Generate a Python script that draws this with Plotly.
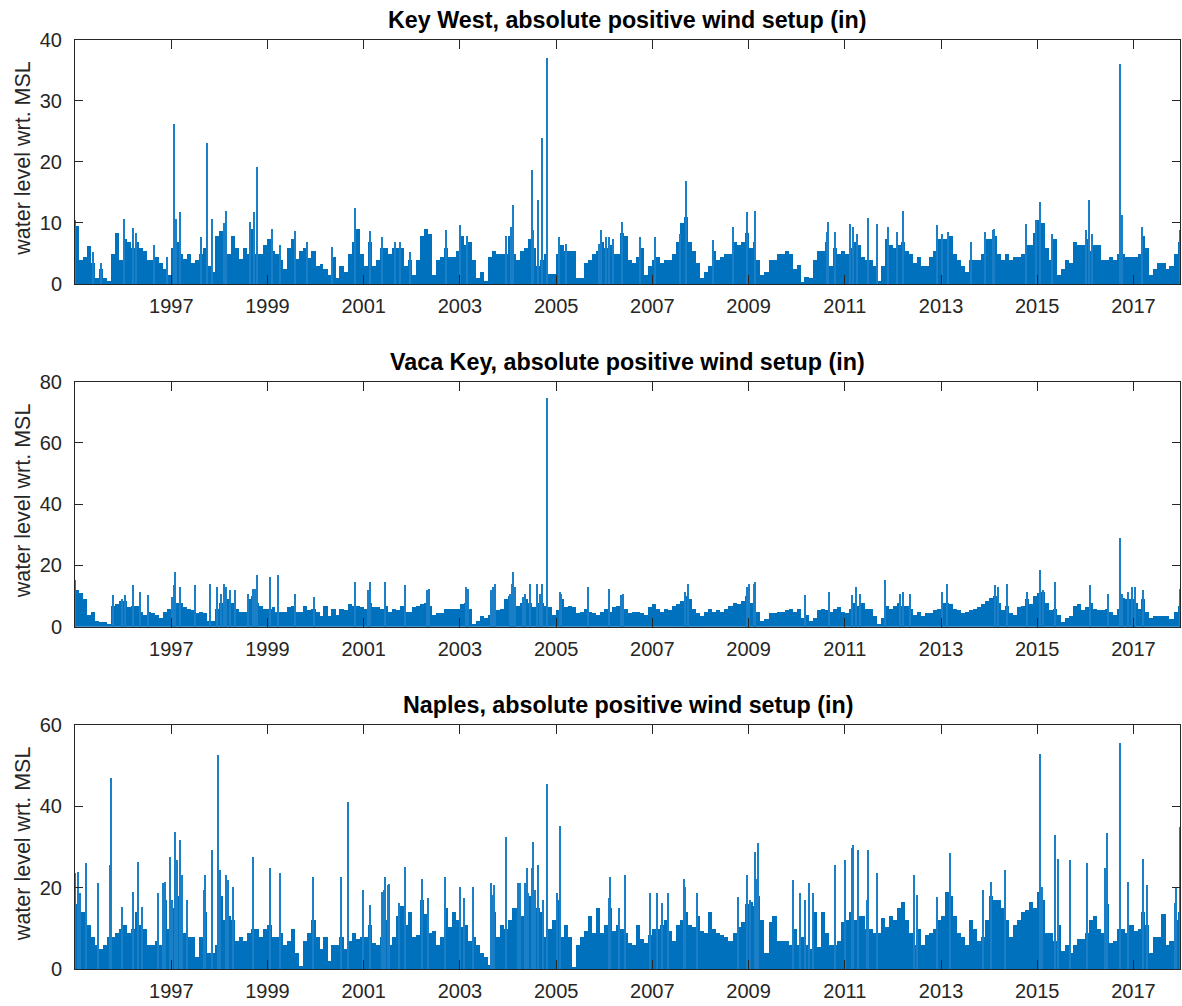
import pandas as pd
import plotly.graph_objects as go

# ---------------- data (monthly envelope values) ----------------
key_west_monthly = [
    9.5, 4, 4.5, 6.3, 3.5, 1, 2.5, 1, 0.5, 5, 8.5, 4,          # 1995
    7.5, 7, 6, 7, 6, 5.5, 4, 4, 4.5, 3.5, 2.5, 1.5,            # 1996
    6, 7, 5, 4.2, 5, 3.5, 4, 5, 6, 3, 2, 8,                    # 1997
    8.8, 9, 5, 8, 6, 4.2, 6, 5, 9, 5, 5, 6.5,                  # 1998
    7.5, 5.5, 5, 4, 2.5, 6, 7.5, 4.2, 5.5, 6, 4.3, 5.5,        # 1999
    3, 3.3, 2.5, 1.5, 4.5, 1, 3, 2, 5, 7, 9, 5,                # 2000
    3, 7, 3, 4, 6, 6, 5, 6, 6, 6, 3, 4,                        # 2001
    1.5, 4, 8, 9, 8.3, 1.5, 4, 4.5, 6, 4.5, 4.5, 5.5,          # 2002
    8, 6.5, 7, 4, 1, 2, 0.5, 4.5, 5.5, 5, 5, 5,                # 2003
    8, 5, 4, 5.5, 6, 7.5, 6, 3, 4, 5, 1.8, 1.8,                # 2004
    5, 6.5, 5.5, 5.5, 5.5, 1, 1, 3.5, 4, 5, 5.5, 7,            # 2005
    6, 6.5, 5, 5, 8.5, 8, 4, 3.5, 4.5, 6, 1.5, 3,              # 2006
    4, 4.5, 3.5, 4, 4, 5, 7, 10, 11, 7, 5.5, 3.5,              # 2007
    1, 2, 3, 5.5, 4, 4.5, 5, 5, 7, 6.5, 7, 8.5,                # 2008
    6, 7, 4, 1.5, 2, 4, 4, 5, 5, 5.5, 5, 2.5,                  # 2009
    3.2, 0.4, 1.2, 1, 4, 5.5, 5.5, 7, 3, 6, 5, 5.5,            # 2010
    5, 6, 7, 6.5, 4.5, 4, 4, 3, 0.5, 3, 7.5, 6.5,              # 2011
    6, 6.5, 7, 5.5, 5, 3.5, 4.5, 3, 3, 4.5, 5.5, 7.5,          # 2012
    7.5, 7.5, 8, 5, 4, 3, 2, 4, 4, 4, 5, 7.5,                  # 2013
    7.5, 8, 5, 4, 5, 4, 4.5, 4.5, 5, 6.5, 6.5, 8.5,            # 2014
    10.5, 10, 6, 4, 7.5, 1.5, 2.5, 4, 3.5, 7, 6.5, 6.5,        # 2015
    7.5, 5.5, 6.5, 6.5, 4, 4, 4.5, 4, 5, 5, 4.5, 4.5,          # 2016
    4.5, 5, 8, 6, 1.5, 2.5, 3.5, 3.5, 2.5, 3, 5, 7,            # 2017
]
key_west_peak_dates = [
    "1995-01-03", "1995-05-19", "1995-07-20", "1996-01-08", "1996-03-14", "1996-04-05",
    "1996-08-22", "1996-12-02", "1997-01-24", "1997-02-03", "1997-03-08", "1997-08-14",
    "1997-09-27", "1997-11-06", "1998-02-03", "1998-02-24", "1998-08-25", "1998-09-24",
    "1998-10-12", "1999-02-06", "1999-04-05", "1999-07-27", "1999-10-27", "2000-05-05",
    "2000-10-27", "2001-02-17", "2001-05-22", "2001-08-25", "2001-10-05", "2001-12-20",
    "2002-09-21", "2003-01-05", "2003-02-21", "2003-12-19", "2004-01-26", "2004-02-10",
    "2004-06-28", "2004-07-09", "2004-08-17", "2004-09-12", "2004-10-22", "2005-01-26",
    "2005-03-18", "2005-11-24", "2005-12-07", "2006-01-16", "2006-02-10", "2006-03-07",
    "2006-05-15", "2006-09-27", "2007-01-19", "2007-07-27", "2007-09-10", "2008-04-05",
    "2008-09-05", "2008-12-17", "2009-02-20", "2010-08-18", "2010-08-28", "2010-10-20",
    "2011-02-10", "2011-03-07", "2011-04-01", "2011-06-29", "2011-09-01", "2011-11-24",
    "2012-01-29", "2012-03-22", "2012-11-28", "2013-01-05", "2013-02-24", "2013-08-17",
    "2013-11-28", "2014-01-29", "2014-02-09", "2014-10-07", "2014-12-23", "2015-01-23",
    "2015-04-27", "2016-01-04", "2016-01-26", "2016-02-24", "2016-09-17", "2016-10-05",
    "2017-03-08", "2017-12-18",
]
key_west_peak_values = [
    10.5, 5.3, 3.5, 10.7, 9.2, 8.5,
    6.5, 4.5, 26.2, 10.7, 11.8, 7.8,
    23.1, 10.7, 10, 12, 10.2, 11.8,
    19.3, 9, 6.5, 8.8, 7, 6.2,
    12.5, 8.8, 7.7, 7, 7, 5.3,
    8.9, 9.8, 8, 8, 9.4, 13,
    18.7, 8.9, 13.9, 24, 37, 7.7,
    6.7, 6.7, 8.9, 7.7, 7.7, 7.5,
    10.2, 7.7, 7.7, 8.3, 17, 7.2,
    9.4, 11.8, 12, 8.6, 10.2, 8.6,
    9.9, 9.4, 8.3, 10.8, 9.9, 9.4,
    8.6, 12.1, 9.7, 8.3, 8.6, 7,
    8.6, 8.9, 9.1, 9.9, 10.5, 13.5,
    8.3, 8.9, 13.9, 8.3, 36, 11.3,
    9.4, 8.9,
]

vaca_key_monthly = [
    12, 11, 9, 4, 5, 2, 1.5, 1.5, 1, 7, 7.5, 8.5,              # 1995
    8.5, 6.5, 7, 7, 5, 4, 5, 4.5, 4, 3, 5, 6,                  # 1996
    9, 8, 8, 6.5, 6, 5.5, 4.5, 5, 4.5, 2, 2, 6,                # 1997
    8, 10, 9, 8, 6, 5, 5, 9, 10, 8, 7, 6,                      # 1998
    6, 6.5, 5, 5, 5, 6.5, 7, 5, 5, 7, 5.5, 6,                  # 1999
    5, 3.5, 7, 3.5, 6, 4, 6, 5.5, 7.5, 7, 7, 6.5,              # 2000
    6, 8, 6.5, 6.5, 6, 7, 5, 6, 5.5, 7, 5, 5,                  # 2001
    6.5, 7, 7.5, 8, 7, 4, 4.5, 4.5, 6, 6, 6, 6,                # 2002
    7.5, 8, 6, 1, 2, 3.5, 3, 4, 9, 5.5, 6, 9,                  # 2003
    10, 11, 7, 8, 9, 8, 6.5, 8, 8, 7, 6.5, 4,                  # 2004
    5.5, 9, 6.5, 7, 6.5, 4.5, 5, 6, 5, 4.5, 4, 5,              # 2005
    6, 5, 6.5, 7, 9, 6, 4.5, 5, 5, 4.5, 4, 6.5,                # 2006
    7.5, 6, 5, 6, 5.5, 7, 7.5, 8.5, 10, 9, 6, 4.5,             # 2007
    3.5, 5, 6, 5, 5.5, 5, 6, 7, 8, 7.5, 8.5, 10,               # 2008
    8, 10, 5, 2, 2.5, 4.5, 4.5, 5, 5, 5.5, 6, 5,               # 2009
    6, 3, 4, 2, 3, 5.5, 6, 5.5, 5, 6, 6.5, 5,                  # 2010
    4.5, 6, 8, 7, 8, 6, 6, 3.5, 1, 3, 7, 6,                    # 2011
    7, 8, 7, 7, 6, 4, 5, 3.5, 4.5, 4.5, 5.5, 6,                # 2012
    8, 8, 7.5, 6, 5.5, 4.5, 5, 5.5, 6, 6.5, 7.5, 8.5,          # 2013
    9.5, 10, 8, 5.5, 7, 4.5, 4, 6.5, 7, 9, 7.5, 10,            # 2014
    11, 11.5, 8, 5.5, 6, 4, 1.5, 3, 3.5, 7, 7.5, 5.5,          # 2015
    6.5, 8, 6, 5.5, 5.5, 6, 5, 4, 6, 9.5, 9, 9,                # 2016
    8, 6, 9, 5, 3, 3.5, 3.5, 3.5, 3.5, 2.5, 5, 7,              # 2017
]
vaca_key_peak_dates = [
    "1995-01-03", "1995-10-20", "1995-12-24", "1996-01-17", "1996-03-14", "1996-05-08",
    "1996-07-08", "1997-01-05", "1997-01-20", "1997-01-30", "1997-03-08", "1997-06-28",
    "1997-10-23", "1997-12-13", "1998-01-12", "1998-02-06", "1998-02-24", "1998-03-21",
    "1998-04-30", "1998-08-04", "1998-09-13", "1998-10-01", "1998-10-11", "1999-01-19",
    "1999-03-25", "1999-07-28", "1999-12-17", "2000-10-27", "2001-02-03", "2001-02-18",
    "2001-06-10", "2001-11-13", "2002-04-23", "2002-05-08", "2003-02-20", "2003-03-04",
    "2003-08-28", "2003-09-09", "2003-09-24", "2004-01-14", "2004-01-30", "2004-02-10",
    "2004-02-21", "2004-04-23", "2004-05-06", "2004-06-17", "2004-08-07", "2004-08-29",
    "2004-09-12", "2004-10-22", "2005-01-27", "2005-02-07", "2005-09-03", "2006-02-03",
    "2006-05-08", "2006-05-22", "2007-09-06", "2007-10-02", "2008-12-17", "2009-01-01",
    "2009-02-08", "2009-02-20", "2010-03-08", "2010-09-06", "2011-02-23", "2011-03-24",
    "2011-04-27", "2011-11-02", "2012-02-23", "2012-03-20", "2012-05-08", "2013-01-05",
    "2013-02-13", "2014-02-17", "2014-03-10", "2014-05-16", "2014-10-12", "2015-01-23",
    "2015-02-17", "2015-05-17", "2016-02-03", "2016-06-25", "2016-09-17", "2016-10-05",
    "2016-11-24", "2016-12-20", "2017-01-16", "2017-03-18", "2017-12-18",
]
vaca_key_peak_values = [
    15.2, 10.3, 9.2, 10.3, 13.6, 11.4,
    10.3, 9.8, 13.6, 18, 13.1, 13.6,
    14.1, 13.1, 10.9, 14.1, 13.1, 12,
    12, 10.9, 12.5, 12.5, 16.9, 16.3,
    16.9, 10.9, 9.8, 14.7, 12, 14.7,
    14.7, 13.6, 12, 12.5, 13.1, 12.5,
    12, 13, 14.1, 10.9, 14.1, 18,
    13, 9.8, 10.9, 14.1, 14.1, 10.9,
    14.1, 74.9, 11.4, 10.9, 13.1, 12.5,
    10.3, 10.9, 11.4, 14.1, 13.1, 14.1,
    14.1, 14.7, 10.3, 11.4, 10.3, 13.1,
    10.9, 15.2, 10.9, 11.4, 10.9, 11.4,
    14.1, 13.6, 13.1, 14.1, 11.4, 18.7,
    12, 14.7, 13.6, 10.9, 29.2, 10.9,
    11.4, 13.1, 13.1, 12, 12.5,
]

naples_monthly = [
    16, 14, 14, 11, 8, 6, 5, 6, 8, 8, 9, 10,                   # 1995
    11, 9, 10, 14, 11, 10, 6, 6, 7, 6, 17, 10,                 # 1996
    15, 18, 18, 9, 8, 8, 3, 8, 14, 4, 4, 6,                    # 1997
    18, 12, 13, 12, 7, 8, 7, 9, 10, 10, 8, 10,                 # 1998
    11, 8, 8, 9, 6, 7, 10, 4, 0.7, 7, 9, 12,                   # 1999
    8, 5, 8, 2, 6, 6, 8, 5, 7, 9, 7.5, 8,                      # 2000
    8, 11, 6.5, 6, 8, 12, 6, 8, 13, 15.5, 11, 14,              # 2001
    8, 8.5, 17, 13.5, 9, 9.5, 6, 8, 15, 10.5, 14, 12,          # 2002
    10.5, 11, 7, 8, 6, 4, 3, 1, 14, 8, 11, 10,                 # 2003
    12, 15, 15, 13, 17, 18, 19, 15, 14, 8, 10, 12,             # 2004
    17, 8, 11, 8, 0.5, 6, 8, 9.5, 13, 9, 15, 9,                # 2005
    11, 15, 9.5, 11, 10, 9, 6.5, 6, 11, 7.5, 6.5, 8.5,         # 2006
    10, 10, 11, 12, 9.5, 7, 11, 12, 14, 11, 10.5, 13,          # 2007
    9.5, 9, 14, 10, 9, 8.5, 8, 7, 9, 10.5, 11.5, 16,           # 2008
    16.5, 15.5, 18, 12, 4, 11.5, 13, 7, 7, 7, 6, 10,           # 2009
    6, 8, 6, 5, 14, 5.5, 14, 9, 6, 6, 7, 11.5,                 # 2010
    12, 14, 12, 13, 13, 10, 10, 9, 9, 12.5, 10.5, 13,          # 2011
    12, 15, 16.5, 12, 9, 6, 10, 6, 8.5, 9, 10, 12,             # 2012
    13, 19, 18, 13, 9, 8, 6, 12, 10, 7, 8, 12,                 # 2013
    18, 17, 17, 15, 12, 8, 11, 12, 14, 14.5, 16.5, 15,         # 2014
    19, 17, 9, 9, 7, 11, 4.5, 6, 4, 6, 7.5, 7.5,               # 2015
    9, 12, 13, 10, 9, 16, 6.5, 7, 10, 10, 9, 11,               # 2016
    9.5, 10, 14, 11, 4, 8, 8, 13.5, 6, 7, 12, 14,              # 2017
]
naples_peak_dates = [
    "1995-01-03", "1995-01-26", "1995-02-10", "1995-03-29", "1995-06-28", "1995-09-23",
    "1995-10-05", "1995-12-24", "1996-03-18", "1996-04-20", "1996-05-21", "1996-09-24",
    "1996-11-02", "1996-11-13", "1996-12-24", "1997-01-08", "1997-01-30", "1997-02-10",
    "1997-03-08", "1997-03-20", "1997-04-28", "1997-09-05", "1997-09-13", "1997-11-03",
    "1997-12-24", "1998-01-05", "1998-02-24", "1998-03-07", "1998-04-16", "1998-09-16",
    "1999-01-19", "1999-04-06", "1999-12-12", "2000-07-16", "2000-09-05", "2000-12-29",
    "2001-02-17", "2001-05-19", "2001-06-03", "2001-06-12", "2001-07-06", "2001-07-09",
    "2001-09-24", "2001-11-10", "2002-03-17", "2002-05-05", "2002-09-09", "2003-01-03",
    "2003-02-05", "2003-04-12", "2003-08-29", "2003-09-09", "2003-09-20", "2003-12-20",
    "2004-03-18", "2004-04-01", "2004-05-08", "2004-05-22", "2004-06-03", "2004-06-28",
    "2004-07-12", "2004-07-24", "2004-08-17", "2004-09-24", "2004-10-22", "2005-01-06",
    "2005-01-30", "2006-02-03", "2006-02-14", "2006-04-20", "2006-06-06", "2006-12-17",
    "2007-02-07", "2007-03-18", "2007-04-27", "2007-08-26", "2007-09-06", "2007-12-05",
    "2008-10-16", "2008-12-17", "2009-01-12", "2009-02-20", "2009-03-04", "2009-03-17",
    "2009-12-06", "2010-01-30", "2010-03-08", "2010-04-01", "2010-05-08", "2010-10-19",
    "2011-01-04", "2011-02-23", "2011-03-07", "2011-04-14", "2011-06-17", "2011-06-29",
    "2011-09-02", "2012-06-06", "2012-07-01", "2012-11-28", "2013-03-11", "2013-11-16",
    "2014-01-18", "2014-05-02", "2015-01-23", "2015-02-06", "2015-05-17", "2015-06-10",
    "2015-09-09", "2016-01-13", "2016-05-30", "2016-06-13", "2016-09-17", "2016-11-24",
    "2017-03-18", "2017-04-13", "2017-11-09", "2017-11-21", "2017-12-19",
]
naples_peak_values = [
    23.6, 24, 18.7, 26.2, 21.1, 25.6,
    46.9, 15.4, 19.1, 26.4, 15.4, 18.7,
    21.1, 21.5, 27.7, 16.9, 33.8, 26.8,
    31.8, 23.2, 17, 19.5, 23.2, 29.3,
    52.6, 24.4, 23.2, 21.9, 20.3, 27.7,
    24.8, 23.6, 22.7, 22.7, 41.2, 19.5,
    15.8, 19.1, 19.5, 22.7, 20.7, 21,
    16.2, 25.2, 22.3, 17.4, 22.7, 20.3,
    17.4, 20.3, 21.1, 18.2, 20.7, 32.6,
    21.1, 21.1, 21.1, 24.8, 18.7, 24.8,
    31.3, 19.5, 25.6, 17, 45.5, 18.7,
    35.3, 17.4, 22.7, 15.1, 23.2, 18.7,
    18.7, 16.2, 18.7, 22.3, 20.3, 18.7,
    17.8, 23.2, 17, 28.9, 22.3, 30.9,
    21.9, 18.7, 17, 21.1, 18.7, 25.6,
    26.8, 29.7, 30.5, 29.3, 17, 29.3,
    23.6, 23.2, 18.2, 17.8, 28.6, 19.5,
    21.5, 24.4, 52.9, 20.3, 33, 27.2,
    26.8, 26, 24.8, 33.4, 55.5, 21.5,
    27.2, 20.7, 16.2, 19.9, 35,
]

panel_titles = [
    "Key West, absolute positive wind setup (in)",
    "Vaca Key, absolute positive wind setup (in)",
    "Naples, absolute positive wind setup (in)",
]
y_maxima = [40, 80, 60]
y_tick_steps = [10, 20, 20]
x_tick_years = list(range(1997, 2018, 2))
y_label = "water level wrt. MSL"

# ---------------- figure ----------------
W, H = 1182, 1006
L, R = 75, 2
plot_w = W - L - R
panel_px = [(39.5, 284.0), (381.7, 626.7), (725.0, 969.3)]  # (top, bottom) in px

BLUE = "#0072BD"
SPIKE = "#1a7fc6"
AX = "#262626"
FONT = "Liberation Sans, Arial, Helvetica, sans-serif"
DAY_MS = 86400000

month_starts = pd.date_range("1995-01-01", "2017-12-01", freq="MS")
month_widths = [d.days_in_month * DAY_MS for d in month_starts]

series = [
    (key_west_monthly, key_west_peak_dates, key_west_peak_values),
    (vaca_key_monthly, vaca_key_peak_dates, vaca_key_peak_values),
    (naples_monthly, naples_peak_dates, naples_peak_values),
]

fig = go.Figure()
annotations = []
spike_w = 8 * DAY_MS

for i, (monthly, pdates, pvals) in enumerate(series):
    k = "" if i == 0 else str(i + 1)
    fig.add_trace(go.Bar(
        x=month_starts, y=monthly, width=month_widths, offset=0,
        marker=dict(color=BLUE, line=dict(width=0)),
        xaxis="x" + k, yaxis="y" + k, showlegend=False, hoverinfo="skip",
    ))
    fig.add_trace(go.Bar(
        x=pd.to_datetime(pdates), y=pvals, width=spike_w, offset=-spike_w / 2,
        marker=dict(color=SPIKE, line=dict(width=0)),
        xaxis="x" + k, yaxis="y" + k, showlegend=False, hoverinfo="skip",
    ))

    top, bot = panel_px[i]
    dom = [1 - bot / H, 1 - top / H]
    common = dict(
        showline=True, linecolor=AX, linewidth=1, mirror="ticks",
        ticks="inside", tickcolor=AX, tickwidth=1,
        showgrid=False, zeroline=False, automargin=False,
        tickfont=dict(family=FONT, size=20, color=AX),
    )
    fig.update_layout(**{
        "xaxis" + k: dict(
            domain=[0, 1], anchor="y" + k, type="date",
            range=["1995-01-01", "2017-12-20"],
            tickvals=[pd.Timestamp(f"{y}-01-01") for y in x_tick_years],
            ticktext=[str(y) for y in x_tick_years],
            ticklen=9, ticklabelstandoff=4, **common,
        ),
        "yaxis" + k: dict(
            domain=dom, anchor="x" + k, range=[0, y_maxima[i]],
            tickvals=list(range(0, y_maxima[i] + 1, y_tick_steps[i])),
            ticklen=8, ticklabelstandoff=8, **common,
        ),
    })
    annotations.append(dict(
        text="<b>" + panel_titles[i] + "</b>", xref="paper", yref="paper",
        x=0.5, y=1 - (top - 20) / H, xanchor="center", yanchor="middle",
        showarrow=False, font=dict(family=FONT, size=23.3, color="#000000"),
    ))
    annotations.append(dict(
        text=y_label, xref="paper", yref="paper", textangle=-90,
        x=(23 - L) / plot_w, y=1 - ((top + bot) / 2 - 3) / H,
        xanchor="center", yanchor="middle", showarrow=False,
        font=dict(family=FONT, size=21.5, color=AX),
    ))

fig.update_layout(
    width=W, height=H,
    margin=dict(l=L, r=R, t=0, b=0, autoexpand=False),
    paper_bgcolor="white", plot_bgcolor="white",
    barmode="overlay", bargap=0,
    annotations=annotations,
    showlegend=False,
)

fig.write_html(
    "out.html",
    config={"displayModeBar": False},
    post_script="document.body.style.margin='0';document.body.style.overflow='hidden';",
)
